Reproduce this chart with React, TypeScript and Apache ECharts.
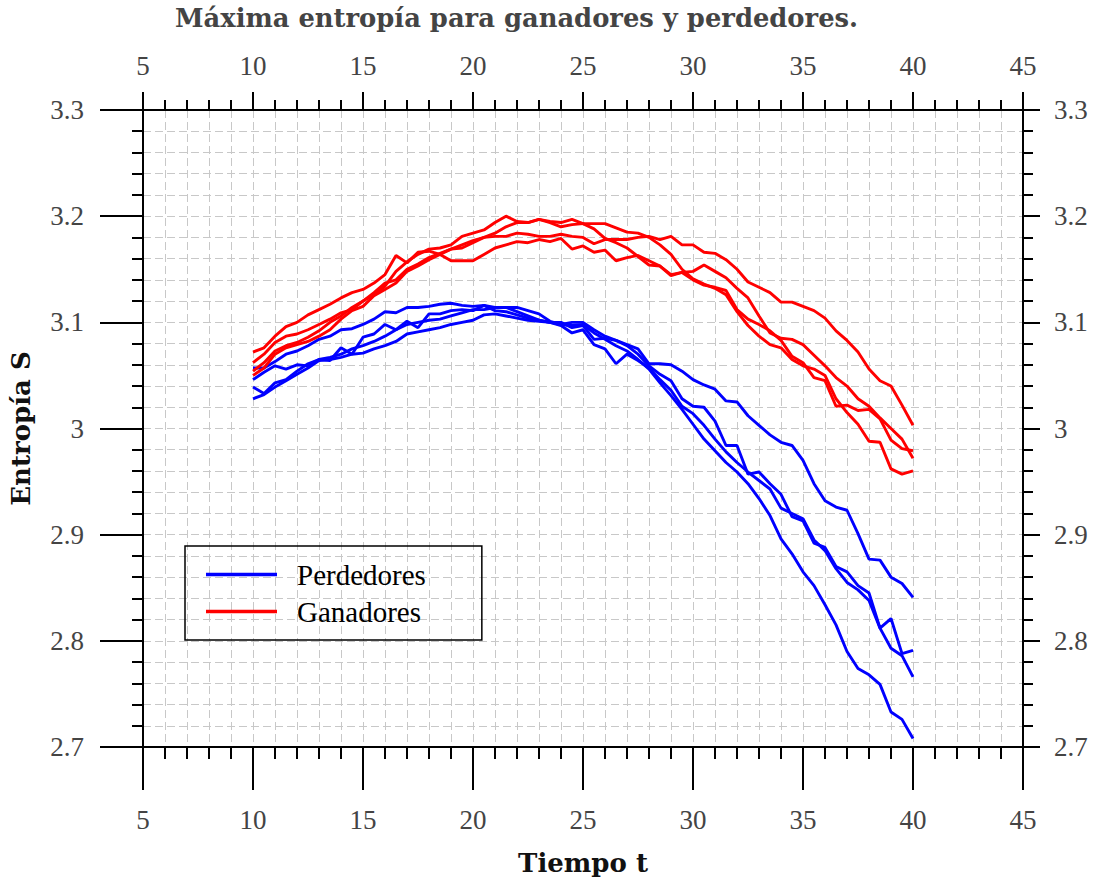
import React, { useEffect, useRef } from "react";
import * as echarts from "echarts";

// Time points (t = 10 ... 40, step 0.5)
const tiempo: number[] = [
  10, 10.5, 11, 11.5, 12, 12.5, 13, 13.5, 14, 14.5, 15, 15.5, 16,
  16.5, 17, 17.5, 18, 18.5, 19, 19.5, 20, 20.5, 21, 21.5, 22, 22.5, 23, 23.5, 24,
  24.5, 25, 25.5, 26, 26.5, 27, 27.5, 28, 28.5, 29, 29.5, 30, 30.5, 31, 31.5, 32,
  32.5, 33, 33.5, 34, 34.5, 35, 35.5, 36, 36.5, 37, 37.5, 38, 38.5, 39, 39.5, 40,
];

// Perdedores (blue)
const perdedores1: number[] = [
  3.057, 3.057, 3.063, 3.070, 3.073, 3.078, 3.084, 3.087, 3.093, 3.094, 3.098, 3.103, 3.110,
  3.109, 3.114, 3.114, 3.115, 3.117, 3.118, 3.116, 3.115, 3.116, 3.114, 3.114, 3.114, 3.111, 3.108, 3.101, 3.098,
  3.100, 3.100, 3.093, 3.087, 3.083, 3.079, 3.075, 3.061, 3.061, 3.060, 3.054, 3.046, 3.041, 3.037, 3.026, 3.025,
  3.012, 3.003, 2.994, 2.987, 2.984, 2.970, 2.948, 2.932, 2.926, 2.923, 2.901, 2.877, 2.876, 2.860, 2.854, 2.841,
];
const perdedores2: number[] = [
  3.046, 3.053, 3.059, 3.056, 3.060, 3.059, 3.065, 3.064, 3.076, 3.070, 3.086, 3.089, 3.098,
  3.093, 3.101, 3.095, 3.108, 3.108, 3.111, 3.112, 3.111, 3.116, 3.111, 3.110, 3.107, 3.104, 3.102, 3.100, 3.100,
  3.095, 3.097, 3.084, 3.085, 3.083, 3.078, 3.070, 3.059, 3.051, 3.045, 3.028, 3.021, 3.020, 3.007, 2.984, 2.984,
  2.957, 2.959, 2.948, 2.938, 2.917, 2.913, 2.892, 2.888, 2.870, 2.865, 2.852, 2.845, 2.812, 2.821, 2.788, 2.791,
];
const perdedores3: number[] = [
  3.039, 3.033, 3.043, 3.046, 3.054, 3.061, 3.065, 3.067, 3.070, 3.075, 3.078, 3.082, 3.087,
  3.093, 3.098, 3.100, 3.102, 3.103, 3.106, 3.109, 3.112, 3.112, 3.114, 3.114, 3.110, 3.106, 3.102, 3.100, 3.097,
  3.090, 3.093, 3.079, 3.075, 3.061, 3.070, 3.064, 3.057, 3.046, 3.036, 3.021, 3.014, 3.003, 2.990, 2.978, 2.968,
  2.959, 2.951, 2.943, 2.925, 2.920, 2.915, 2.895, 2.885, 2.868, 2.855, 2.848, 2.838, 2.812, 2.793, 2.786, 2.766,
];
const perdedores4: number[] = [
  3.028, 3.032, 3.039, 3.045, 3.051, 3.057, 3.064, 3.065, 3.067, 3.070, 3.071, 3.075, 3.078,
  3.082, 3.089, 3.091, 3.093, 3.095, 3.098, 3.100, 3.102, 3.107, 3.108, 3.106, 3.104, 3.102, 3.101, 3.100, 3.098,
  3.097, 3.098, 3.090, 3.084, 3.078, 3.073, 3.065, 3.056, 3.043, 3.031, 3.018, 3.004, 2.990, 2.979, 2.968, 2.959,
  2.948, 2.934, 2.918, 2.896, 2.882, 2.865, 2.852, 2.834, 2.815, 2.790, 2.774, 2.768, 2.759, 2.733, 2.726, 2.708,
];

// Ganadores (red)
const ganadores1: number[] = [
  3.072, 3.076, 3.087, 3.096, 3.100, 3.107, 3.112, 3.117, 3.123, 3.128, 3.131, 3.137, 3.145,
  3.163, 3.156, 3.166, 3.167, 3.164, 3.158, 3.158, 3.158, 3.164, 3.170, 3.173, 3.176, 3.175, 3.178, 3.176, 3.179,
  3.169, 3.172, 3.166, 3.168, 3.158, 3.161, 3.163, 3.158, 3.153, 3.144, 3.147, 3.148, 3.154, 3.148, 3.142, 3.132,
  3.123, 3.106, 3.090, 3.085, 3.084, 3.079, 3.069, 3.059, 3.048, 3.040, 3.028, 3.021, 3.010, 3.000, 2.990, 2.972,
];
const ganadores2: number[] = [
  3.062, 3.070, 3.081, 3.087, 3.089, 3.093, 3.098, 3.103, 3.109, 3.112, 3.120, 3.126, 3.134,
  3.148, 3.157, 3.164, 3.169, 3.170, 3.173, 3.181, 3.184, 3.187, 3.194, 3.200, 3.195, 3.194, 3.197, 3.195, 3.194,
  3.197, 3.193, 3.188, 3.179, 3.175, 3.170, 3.162, 3.154, 3.153, 3.145, 3.147, 3.140, 3.135, 3.133, 3.130, 3.112,
  3.103, 3.098, 3.092, 3.083, 3.068, 3.062, 3.048, 3.045, 3.021, 3.022, 3.017, 3.018, 3.009, 2.989, 2.981, 2.979,
];
const ganadores3: number[] = [
  3.054, 3.062, 3.073, 3.078, 3.081, 3.086, 3.092, 3.100, 3.106, 3.114, 3.120, 3.128, 3.137,
  3.140, 3.150, 3.155, 3.161, 3.165, 3.169, 3.173, 3.177, 3.180, 3.184, 3.190, 3.194, 3.194, 3.197, 3.194, 3.190,
  3.192, 3.193, 3.193, 3.193, 3.189, 3.185, 3.184, 3.180, 3.173, 3.164, 3.150, 3.141, 3.136, 3.132, 3.126, 3.110,
  3.097, 3.087, 3.079, 3.076, 3.065, 3.059, 3.056, 3.050, 3.028, 3.015, 3.004, 2.988, 2.987, 2.962, 2.957, 2.960,
];
const ganadores4: number[] = [
  3.050, 3.057, 3.070, 3.076, 3.079, 3.082, 3.087, 3.093, 3.103, 3.111, 3.115, 3.125, 3.131,
  3.137, 3.148, 3.153, 3.159, 3.164, 3.169, 3.170, 3.175, 3.180, 3.181, 3.181, 3.184, 3.183, 3.181, 3.181, 3.183,
  3.181, 3.180, 3.174, 3.178, 3.178, 3.178, 3.180, 3.181, 3.178, 3.181, 3.173, 3.173, 3.166, 3.165, 3.159, 3.150,
  3.138, 3.133, 3.128, 3.119, 3.119, 3.115, 3.111, 3.104, 3.092, 3.083, 3.072, 3.056, 3.045, 3.040, 3.022, 3.003,
];

const perdedores = [perdedores1, perdedores2, perdedores3, perdedores4];
const ganadores = [ganadores1, ganadores2, ganadores3, ganadores4];

const TITLE = "Máxima entropía para ganadores y perdedores.";
const X_NAME = "Tiempo t";
const Y_NAME = "Entropía S";
const NAME_PERD = "Perdedores";
const NAME_GAN = "Ganadores";

const X_MIN = 5, X_MAX = 45, X_STEP = 5;
const Y_MIN = 2.7, Y_MAX = 3.3, Y_STEP = 0.1;

const SERIF = "'Liberation Serif', 'Times New Roman', serif";
const BOLD_SERIF = "'DejaVu Serif', serif";
const GRID_LINE = { color: "#c8c8c8", width: 1, type: [8, 4] as number[] };
const AXIS_BLACK = { color: "#000", width: 2 };

const pair = (ys: number[]) => tiempo.map((t, i) => [t, ys[i]]);

export default function App() {
  const ref = useRef<HTMLDivElement>(null);
  useEffect(() => {
    if (!ref.current) return;
    const chart = echarts.init(ref.current, null, { renderer: "svg" });
    const labelStyle = { fontFamily: SERIF, fontSize: 27, color: "#444" };
    const yFmt = (v: number) => String(Math.round(v * 10) / 10);
    const mkSeries = (arr: number[][], name: string, color: string) =>
      arr.map((ys) => ({
        type: "line",
        name,
        data: pair(ys),
        showSymbol: false,
        symbol: "none",
        color,
        lineStyle: { color, width: 2.9 },
        xAxisIndex: 0,
        yAxisIndex: 0,
      }));
    chart.setOption({
      animation: false,
      backgroundColor: "#fff",
      title: {
        text: TITLE,
        left: 175,
        top: 5,
        padding: 0,
        textStyle: { fontFamily: BOLD_SERIF, fontWeight: "bold", fontSize: 25.8, color: "#444" },
      },
      legend: {
        data: [NAME_PERD, NAME_GAN],
        orient: "vertical",
        left: 185,
        top: 546,
        icon: "rect",
        itemWidth: 71,
        itemHeight: 3.5,
        itemGap: 8,
        padding: [14, 56, 14, 21],
        borderColor: "#000",
        borderWidth: 1.5,
        borderRadius: 0,
        backgroundColor: "transparent",
        textStyle: { fontFamily: SERIF, fontSize: 29, color: "#000", padding: [0, 0, 0, 15] },
      },
      grid: { left: 143, right: 77, top: 110, bottom: 133, containLabel: false },
      xAxis: [
        {
          type: "value",
          position: "bottom",
          min: X_MIN,
          max: X_MAX,
          interval: X_STEP,
          name: X_NAME,
          nameLocation: "middle",
          nameGap: 103,
          nameTextStyle: { fontFamily: BOLD_SERIF, fontWeight: "bold", fontSize: 26, color: "#111" },
          axisLine: { show: true, onZero: false, lineStyle: AXIS_BLACK },
          axisTick: { show: true, inside: false, length: 43, lineStyle: AXIS_BLACK },
          minorTick: { show: true, splitNumber: 5, length: 12, lineStyle: AXIS_BLACK },
          splitLine: { show: true, lineStyle: GRID_LINE },
          minorSplitLine: { show: true, lineStyle: GRID_LINE },
          axisLabel: { ...labelStyle, margin: 59 },
        },
        {
          type: "value",
          position: "top",
          min: X_MIN,
          max: X_MAX,
          interval: X_STEP,
          axisLine: { show: true, onZero: false, lineStyle: AXIS_BLACK },
          axisTick: { show: true, inside: false, length: 18, lineStyle: AXIS_BLACK },
          minorTick: { show: true, splitNumber: 5, length: 10, lineStyle: AXIS_BLACK },
          splitLine: { show: false },
          minorSplitLine: { show: false },
          axisLabel: { ...labelStyle, margin: 31 },
        },
      ],
      yAxis: [
        {
          type: "value",
          position: "left",
          min: Y_MIN,
          max: Y_MAX,
          interval: Y_STEP,
          name: Y_NAME,
          nameLocation: "middle",
          nameRotate: 90,
          nameGap: 109,
          nameTextStyle: { fontFamily: BOLD_SERIF, fontWeight: "bold", fontSize: 26, color: "#111" },
          axisLine: { show: true, onZero: false, lineStyle: AXIS_BLACK },
          axisTick: { show: true, inside: false, length: 43, lineStyle: AXIS_BLACK },
          minorTick: { show: true, splitNumber: 5, length: 11, lineStyle: AXIS_BLACK },
          splitLine: { show: true, lineStyle: GRID_LINE },
          minorSplitLine: { show: true, lineStyle: GRID_LINE },
          axisLabel: { ...labelStyle, margin: 59, formatter: yFmt },
        },
        {
          type: "value",
          position: "right",
          min: Y_MIN,
          max: Y_MAX,
          interval: Y_STEP,
          axisLine: { show: true, onZero: false, lineStyle: AXIS_BLACK },
          axisTick: { show: true, inside: false, length: 17, lineStyle: AXIS_BLACK },
          minorTick: { show: true, splitNumber: 5, length: 10, lineStyle: AXIS_BLACK },
          splitLine: { show: false },
          minorSplitLine: { show: false },
          axisLabel: { ...labelStyle, margin: 31, formatter: yFmt },
        },
      ],
      series: [
        ...mkSeries(perdedores, NAME_PERD, "#0000ff"),
        ...mkSeries(ganadores, NAME_GAN, "#ff0000"),
      ],
    });
    return () => chart.dispose();
  }, []);
  return (
    <div
      ref={ref}
      style={{ position: "absolute", left: 0, top: 0, width: 1100, height: 881 }}
    />
  );
}
